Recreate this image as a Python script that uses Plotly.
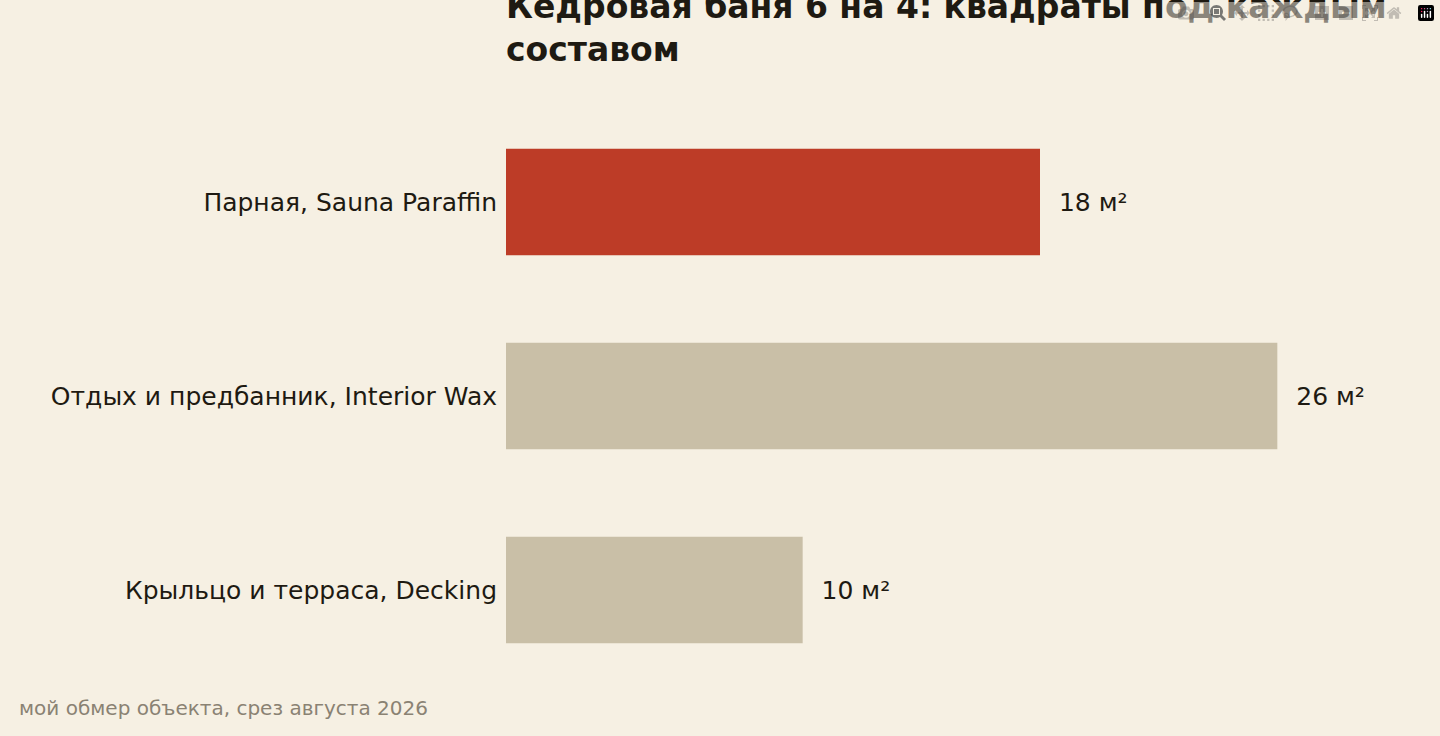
import plotly.graph_objects as go

categories = ["Парная, Sauna Paraffin", "Отдых и предбанник, Interior Wax", "Крыльцо и терраса, Decking"]
areas = [18, 26, 10]
bar_colors = ["#BD3C27", "#C9BFA7", "#C9BFA7"]

fig = go.Figure(go.Bar(
    x=areas, y=categories, orientation="h",
    marker=dict(color=bar_colors, line=dict(width=0)),
    width=0.55,
    text=[f"  {v} м²" for v in areas], textposition="outside",
    textfont=dict(size=25, color="#1E1A12"),
    cliponaxis=False,
))

fig.update_layout(
    width=1440, height=736,
    paper_bgcolor="#F6F0E3", plot_bgcolor="#F6F0E3",
    font=dict(family="DejaVu Sans", color="#1E1A12"),
    margin=dict(l=506, r=44, t=105, b=49),
    title=dict(text="<b>Кедровая баня 6 на 4: квадраты под каждым<br>составом</b>",
               x=506/1440, xanchor="left", y=0.975, yanchor="top",
               font=dict(size=33, color="#1E1A12")),
    xaxis=dict(range=[0, 30], visible=False),
    yaxis=dict(autorange="reversed", showgrid=False, ticks="",
               tickfont=dict(size=25, color="#1E1A12"), ticklabelstandoff=8),
    showlegend=False,
    annotations=[dict(text="мой обмер объекта, срез августа 2026", xref="paper", yref="paper",
                      x=-489/890, y=-21/582, xanchor="left", yanchor="middle",
                      showarrow=False, font=dict(size=20, color="#8A8273"))],
)

fig.write_html("out.html", post_script="document.body.style.margin='0';")
